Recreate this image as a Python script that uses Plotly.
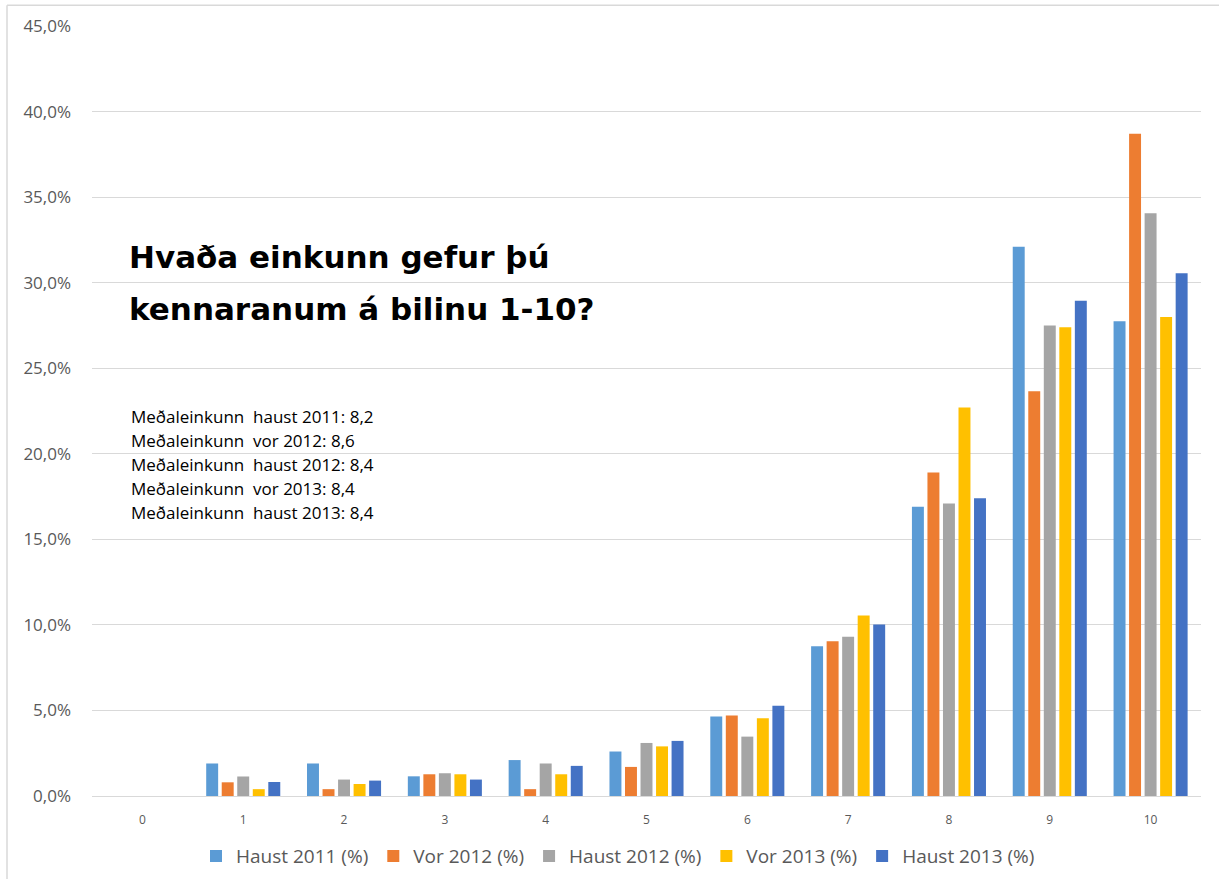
import plotly.graph_objects as go

categories = ["0", "1", "2", "3", "4", "5", "6", "7", "8", "9", "10"]
haust_2011 = [0, 1.9, 1.9, 1.15, 2.1, 2.6, 4.65, 8.75, 16.9, 32.1, 27.75]
vor_2012 = [0, 0.8, 0.4, 1.27, 0.4, 1.7, 4.7, 9.05, 18.9, 23.65, 38.7]
haust_2012 = [0, 1.14, 0.96, 1.33, 1.9, 3.1, 3.47, 9.3, 17.1, 27.5, 34.05]
vor_2013 = [0, 0.4, 0.7, 1.27, 1.27, 2.9, 4.55, 10.55, 22.7, 27.4, 28.0]
haust_2013 = [0, 0.82, 0.9, 0.96, 1.76, 3.22, 5.28, 10.03, 17.4, 28.95, 30.55]

series_names = ["Haust 2011 (%)", "Vor 2012 (%)", "Haust 2012 (%)", "Vor 2013 (%)", "Haust 2013 (%)"]
series_values = [haust_2011, vor_2012, haust_2012, vor_2013, haust_2013]
series_colors = ["#5B9BD5", "#ED7D31", "#A5A5A5", "#FFC000", "#4472C4"]

y_ticks = [0, 5, 10, 15, 20, 25, 30, 35, 40, 45]
y_tick_labels = ["0,0%", "5,0%", "10,0%", "15,0%", "20,0%", "25,0%", "30,0%", "35,0%", "40,0%", "45,0%"]

title_lines = ["Hvaða einkunn gefur þú", "kennaranum á bilinu 1-10?"]
stats_lines = [
    "Meðaleinkunn\u00a0 haust 2011: 8,2",
    "Meðaleinkunn\u00a0 vor 2012: 8,6",
    "Meðaleinkunn\u00a0 haust 2012: 8,4",
    "Meðaleinkunn\u00a0 vor 2013: 8,4",
    "Meðaleinkunn\u00a0 haust 2013: 8,4",
]

# the capture squeezes the page vertically slightly; compensate
K = 887 / 879
W, H = 1219, 887
L, R = 92, 18
T, B = round(26 * K), round(82 * K)
pw, ph = W - L - R, H - T - B


def px_x(x):
    return (x - L) / pw


def px_y(y):
    return (H - B - y * K) / ph


FONT = "'Open Sans', sans-serif"
GREY = "#595959"

fig = go.Figure()
for name, vals, col in zip(series_names, series_values, series_colors):
    fig.add_trace(go.Bar(x=categories, y=vals, name=name, marker=dict(color=col, line=dict(width=0))))

annotations = []
for i, line in enumerate(title_lines):
    annotations.append(dict(
        text=line, xref="paper", yref="paper", x=px_x(127), y=px_y(257 + i * 52),
        xanchor="left", yanchor="middle", showarrow=False,
        font=dict(family="'DejaVu Sans', sans-serif", size=31, color="#000000", weight="bold"),
    ))
for i, line in enumerate(stats_lines):
    annotations.append(dict(
        text=line, xref="paper", yref="paper", x=px_x(129), y=px_y(417 + i * 24),
        xanchor="left", yanchor="middle", showarrow=False,
        font=dict(family=FONT, size=17, color="#000000"),
    ))

shapes = [
    dict(type="line", xref="paper", yref="paper", x0=px_x(7), x1=px_x(1225), y0=px_y(5), y1=px_y(5),
         line=dict(color="#D9D9D9", width=1.5)),
    dict(type="line", xref="paper", yref="paper", x0=px_x(7), x1=px_x(7), y0=px_y(5), y1=px_y(895),
         line=dict(color="#D9D9D9", width=1.5)),
]

fig.update_layout(
    width=W, height=H,
    margin=dict(l=L, r=R, t=T, b=B, pad=0),
    paper_bgcolor="white", plot_bgcolor="white",
    barmode="group", bargap=0.23, bargroupgap=0.23,
    font=dict(family=FONT, color=GREY),
    showlegend=True,
    legend=dict(orientation="h", x=px_x(618), y=px_y(857), xanchor="center", yanchor="middle",
                font=dict(family=FONT, size=19, color=GREY), itemclick=False,
                traceorder="normal", bgcolor="rgba(0,0,0,0)"),
    annotations=annotations,
    shapes=shapes,
    xaxis=dict(type="category", showgrid=False, showline=True, linecolor="#D9D9D9", linewidth=1,
               ticks="", tickfont=dict(family=FONT, size=12, color=GREY), ticklabelstandoff=13,
               fixedrange=True),
    yaxis=dict(range=[0, 45], tickmode="array", tickvals=y_ticks, ticktext=y_tick_labels,
               showgrid=True, gridcolor="#D9D9D9", gridwidth=1, zeroline=False, showline=False,
               ticks="", tickfont=dict(family=FONT, size=17, color=GREY), ticklabelstandoff=20,
               fixedrange=True),
)

fig.write_html("out.html", config={"displayModeBar": False},
               post_script="document.body.style.margin='0';")
